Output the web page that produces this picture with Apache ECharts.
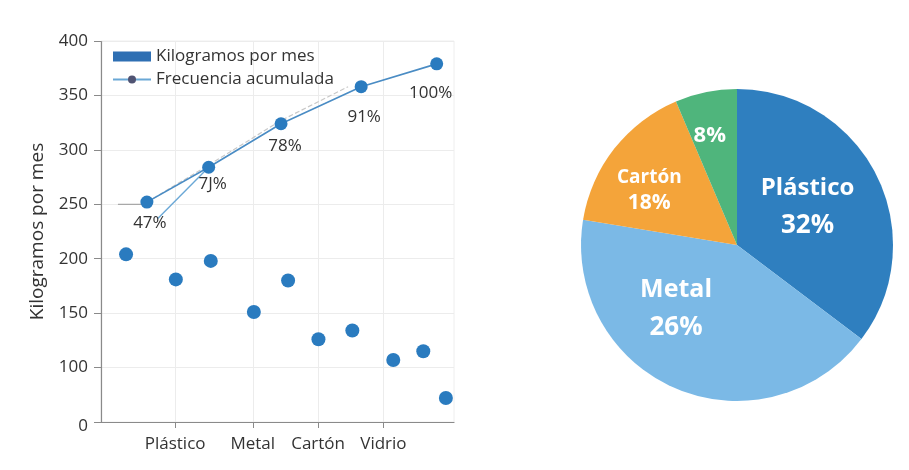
<!DOCTYPE html>
<html>
<head>
<meta charset="utf-8">
<script src="https://cdn.jsdelivr.net/npm/echarts@6/dist/echarts.min.js"></script>
<style>
html,body{margin:0;padding:0;background:#fff;}
#c{width:909px;height:470px;}
</style>
</head>
<body>
<div id="c"></div>
<script>
// ---- data ----
var categories = ['Plástico', 'Metal', 'Cartón', 'Vidrio'];
var categoryTickX = [21, 43, 61.5, 80];
var yTickValues = [0, 100, 150, 200, 250, 300, 350, 400];

var kgX = [7.1, 21.2, 31.1, 43.3, 53, 61.6, 71.2, 82.8, 91.3, 97.7];
var kgY = [204, 181, 198, 151, 180, 126, 134, 107, 115, 72];

var cumX = [13, 30.5, 51, 73.7, 95.1];
var cumY = [252, 284, 324, 358, 379];
var cumLabels = ['47%', '7J%', '78%', '91%', '100%'];

var cumLeadX = [16.1, 30.5];
var cumLeadY = [237, 284];

var dashX = [13, 30.5, 51, 70];
var dashY = [252, 286, 327, 358];

var stubX = [4.8, 13];
var stubY = [250, 250];

var pieNames = ['Plástico', 'Metal', 'Cartón', 'Vidrio'];
var pieShares = [35.3, 42.3, 16.0, 6.4];
var piePctText = ['32%', '26%', '18%', '8%'];
var pieShowName = [true, true, true, false];

// ---- build ----
function pairs(xs, ys) { return xs.map(function (x, i) { return [x, ys[i]]; }); }
var FONT = '"Open Sans", "Noto Sans", sans-serif';
var pieColors = ['#2f7fbf', '#7bb9e6', '#f4a43a', '#4fb57c'];
var pieLabelStyles = [
  { offset: [-2, -2], big: 24, small: 26, lhBig: 38, lhSmall: 38 },
  { offset: [-29, -11], big: 25, small: 26, lhBig: 38, lhSmall: 38 },
  { offset: [-24, -4], big: 19, small: 21, lhBig: 25, lhSmall: 27 },
  { offset: [-11, -30], big: 21, small: 22, lhBig: 28, lhSmall: 28 }
];
var cumLabelOffsets = [[3, 0], [4, -4], [4, 1], [3, 9], [-6, 8]];

var pieData = pieNames.map(function (n, i) {
  var st = pieLabelStyles[i];
  return {
    name: n,
    value: pieShares[i],
    itemStyle: { color: pieColors[i] },
    label: {
      offset: st.offset,
      formatter: pieShowName[i] ? '{n|' + n + '}\n{p|' + piePctText[i] + '}' : '{p|' + piePctText[i] + '}',
      rich: {
        n: { color: '#fff', fontSize: st.big, fontWeight: 'bold', fontFamily: FONT, lineHeight: st.lhBig, align: 'center' },
        p: { color: '#fff', fontSize: st.small, fontWeight: 'bold', fontFamily: FONT, lineHeight: st.lhSmall, align: 'center' }
      }
    }
  };
});

var chart = echarts.init(document.getElementById('c'));
chart.setOption({
  backgroundColor: '#fff',
  animation: false,
  legend: {
    orient: 'vertical',
    left: 107,
    top: 43,
    itemGap: 6,
    itemWidth: 38,
    itemHeight: 10,
    textStyle: { fontSize: 17, color: '#333', fontFamily: FONT },
    data: [
      { name: 'Kilogramos por mes', icon: 'rect', itemStyle: { color: '#2e6fb3', opacity: 1 } },
      { name: 'Frecuencia acumulada' }
    ]
  },
  grid: { left: 101, top: 41, width: 353, height: 381, show: true, borderColor: '#eeeeee', borderWidth: 1 },
  xAxis: {
    type: 'value', min: 0, max: 100,
    axisLine: { show: true, lineStyle: { color: '#8a8a8a', width: 1.2 } },
    axisTick: { show: true, length: 6, customValues: categoryTickX, lineStyle: { color: '#8a8a8a' } },
    axisLabel: {
      customValues: categoryTickX,
      fontSize: 17, color: '#333', fontFamily: FONT, margin: 14,
      formatter: function (v) { var i = categoryTickX.indexOf(v); return i >= 0 ? categories[i] : ''; }
    },
    splitLine: { show: true, lineStyle: { color: '#ececec' } }
  },
  yAxis: {
    type: 'value', min: 0, max: 400, interval: 50,
    breaks: [{ start: 0, end: 50, gap: 0 }],
    breakArea: { show: false },
    name: 'Kilogramos por mes',
    nameLocation: 'middle',
    nameGap: 54,
    nameTextStyle: { fontSize: 19, color: '#333', fontFamily: FONT },
    axisLine: { show: true, lineStyle: { color: '#8a8a8a', width: 1.2 } },
    axisTick: { show: true, length: 7, lineStyle: { color: '#8a8a8a' } },
    axisLabel: {
      fontSize: 17, color: '#333', fontFamily: FONT, margin: 13,
      formatter: function (v) { return yTickValues.indexOf(v) >= 0 ? String(v) : ''; }
    },
    splitLine: { show: true, lineStyle: { color: '#ececec' } }
  },
  series: [
    {
      name: 'Kilogramos por mes', type: 'scatter',
      symbolSize: 14,
      itemStyle: { color: '#2a7bbf', opacity: 1 },
      data: pairs(kgX, kgY),
      z: 3
    },
    {
      name: 'stub', type: 'line', symbol: 'none',
      lineStyle: { color: '#a8a8a8', width: 1.2 },
      data: pairs(stubX, stubY), z: 1, silent: true
    },
    {
      name: 'dash', type: 'line', symbol: 'none',
      lineStyle: { color: '#c8c8c8', width: 1.2, type: 'dashed' },
      data: pairs(dashX, dashY), z: 1, silent: true
    },
    {
      name: 'Frecuencia acumulada', type: 'line', symbol: 'none',
      lineStyle: { color: '#6aa8d6', width: 1.4 },
      data: pairs(cumLeadX, cumLeadY), z: 2
    },
    {
      name: 'Frecuencia acumulada', type: 'line',
      symbol: 'circle', symbolSize: 13,
      itemStyle: { color: '#2a7bbf' },
      lineStyle: { color: '#4a8cc4', width: 1.6 },
      data: pairs(cumX, cumY).map(function (p, i) {
        return { value: p, label: { show: true, formatter: cumLabels[i], offset: cumLabelOffsets[i] } };
      }),
      label: { position: 'bottom', distance: 6, fontSize: 17, color: '#333', fontFamily: FONT },
      z: 3
    },
    {
      name: 'Reparto', type: 'pie',
      center: [737, 245], radius: 156,
      startAngle: 90, clockwise: true,
      label: { show: true, position: 'inside' },
      labelLine: { show: false },
      itemStyle: { borderWidth: 0 },
      data: pieData
    }
  ]
});
</script>
</body>
</html>
